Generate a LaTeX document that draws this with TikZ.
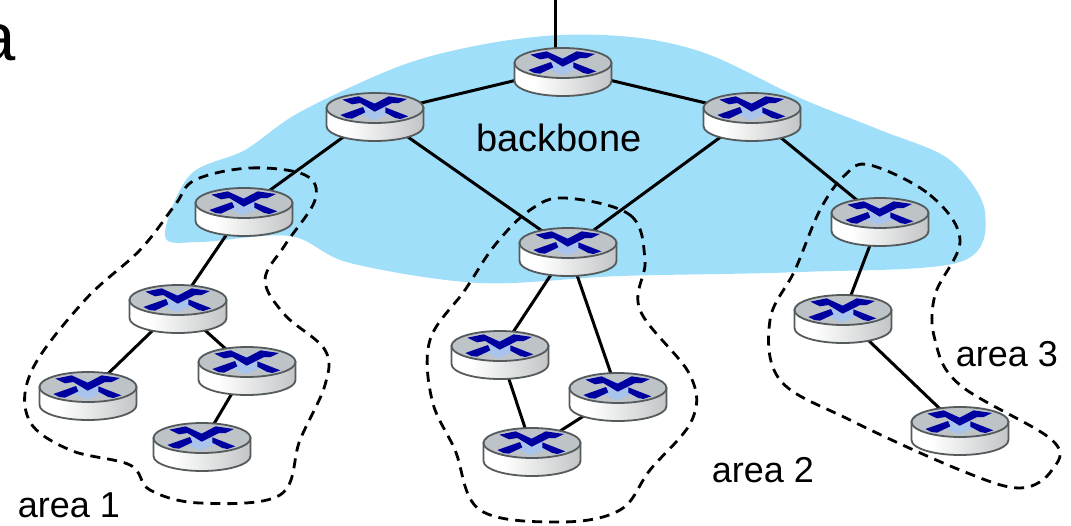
\documentclass[tikz,border=0pt]{standalone}
\usepackage{fontspec}
\setmainfont{Liberation Sans}
\usetikzlibrary{calc}
\definecolor{cloud}{HTML}{9FDFFA}
\definecolor{routertop}{HTML}{BEC3C7}
\definecolor{routerline}{HTML}{555A5C}
\definecolor{xblue}{HTML}{0000A0}
\definecolor{xlight}{HTML}{A8C4EC}
\definecolor{sideL}{HTML}{A8ABAD}
\definecolor{sideR}{HTML}{9DA0A2}
\pgfdeclarehorizontalshading{routerside}{100bp}{
  color(0bp)=(sideL); color(25bp)=(white); color(35bp)=(white); color(100bp)=(sideR)}
\tikzset{
  anchorpt/.style={inner sep=0pt,minimum size=1pt},
  link/.style={line width=3pt,black},
  area/.style={line width=2.8pt,black,dash pattern=on 10pt off 7pt},
  label/.style={inner sep=0pt,anchor=base,font=\fontsize{36}{36}\selectfont},
  router/.pic={
    \path[shading=routerside,draw=routerline,line width=1.8pt]
      (-48.5,0) -- (-48.5,18) arc[start angle=180,end angle=0,x radius=48.5,y radius=15] -- (48.5,0) -- cycle;
    \path[fill=routertop,draw=routerline,line width=1.8pt] (0,0) ellipse[x radius=48.5,y radius=15];
    \begin{scope}[x=0.3333pt,y=-0.3333pt,shift={(-164,-85)}]
      \fill[xlight] (105,97) -- (160,65) -- (220,97) -- (160,122) -- cycle;
      \fill[xblue] (66,60) -- (115,50) -- (163,72) -- (205,50) -- (260,58) -- (235,70) -- (215,70) -- (163,96) -- (120,70) -- (95,74) -- cycle;
      \fill[xblue] (60,106) -- (128,82) -- (135,98) -- (95,117) -- (78,115) -- cycle;
      \fill[xblue] (195,83) -- (264,110) -- (240,118) -- (225,115) -- (195,99) -- cycle;
    \end{scope}
  }
}
\begin{document}
\begin{tikzpicture}[x=1pt,y=-1pt]
\useasboundingbox (0,0) rectangle (1071,525);
\clip (0,0) rectangle (1071,525);
\fill[white] (0,0) rectangle (1071,525);
\fill[cloud] plot[smooth cycle,tension=0.55] coordinates {
 (165,236) (190,175) (245,150) (300,112) (400,66) (480,45) (560,35) (640,38) (710,55) (800,98) (880,130) (950,160) (985,212) (960,262) (800,272) (620,276) (480,283) (350,263) (290,236) (200,242)};
\node[anchorpt] (r1) at (563,69) {};
\node[anchorpt] (r2) at (375,114) {};
\node[anchorpt] (r3) at (752,114) {};
\node[anchorpt] (r4) at (244,209) {};
\node[anchorpt] (r5) at (568,249) {};
\node[anchorpt] (r6) at (880,219) {};
\node[anchorpt] (r7) at (178,306) {};
\node[anchorpt] (r8) at (88,393) {};
\node[anchorpt] (r9) at (247,368) {};
\node[anchorpt] (r10) at (202,444) {};
\node[anchorpt] (r11) at (500,352) {};
\node[anchorpt] (r12) at (618,394) {};
\node[anchorpt] (r13) at (532,449) {};
\node[anchorpt] (r14) at (843,316) {};
\node[anchorpt] (r15) at (960,428) {};
\coordinate (up) at (555,0);
\draw[link] (up) |- (r1);
\draw[link] (r1) -- (r2);
\draw[link] (r1) -- (r3);
\draw[link] (r2) -- (r4);
\draw[link] (r2) -- (r5);
\draw[link] (r3) -- (r5);
\draw[link] (r3) -- (r6);
\draw[link] (r4) -- (r7);
\draw[link] (r7) -- (r8);
\draw[link] (r7) -- (r9);
\draw[link] (r9) -- (r10);
\draw[link] (r5) -- (r11);
\draw[link] (r5) -- (r12);
\draw[link] (r11) -- (r13);
\draw[link] (r12) -- (r13);
\draw[link] (r6) -- (r14);
\draw[link] (r14) -- (r15);
\draw[area] plot[smooth cycle,tension=0.6] coordinates {
 (195,180) (250,168) (305,175) (315,200) (285,245) (265,280) (285,315) (325,350) (325,385) (300,440) (280,495) (200,503) (150,490) (130,465) (70,450) (29,420) (32,370) (85,300) (140,250) (175,205)};
\draw[area] plot[smooth cycle,tension=0.6] coordinates {
 (565,198) (630,215) (645,260) (640,310) (690,375) (692,420) (650,470) (620,510) (560,522) (480,510) (455,450) (432,400) (430,340) (465,290) (495,245) (530,210)};
\draw[area] plot[smooth cycle,tension=0.6] coordinates {
 (870,165) (930,195) (960,240) (935,295) (935,340) (960,385) (1052,440) (1052,470) (1020,488) (960,470) (850,420) (780,380) (770,320) (795,270) (820,210) (845,175)};
\foreach \n in {r1,r2,r3,r4,r5,r6,r7,r8,r9,r10,r11,r12,r13,r14,r15} \path (\n) ++(0,-6) pic {router};
\node[label,font=\fontsize{38}{38}\selectfont] (backbone) at (559,151) {backbone};
\node[label] (a1) at (69,517) {area 1};
\node[label] (a2) at (763,482) {area 2};
\node[label] (a3) at (1007,366) {area 3};
\node[inner sep=0pt,anchor=base west,font=\fontsize{67}{67}\selectfont] (cut) at (-22,60) {a};
\end{tikzpicture}
\end{document}
